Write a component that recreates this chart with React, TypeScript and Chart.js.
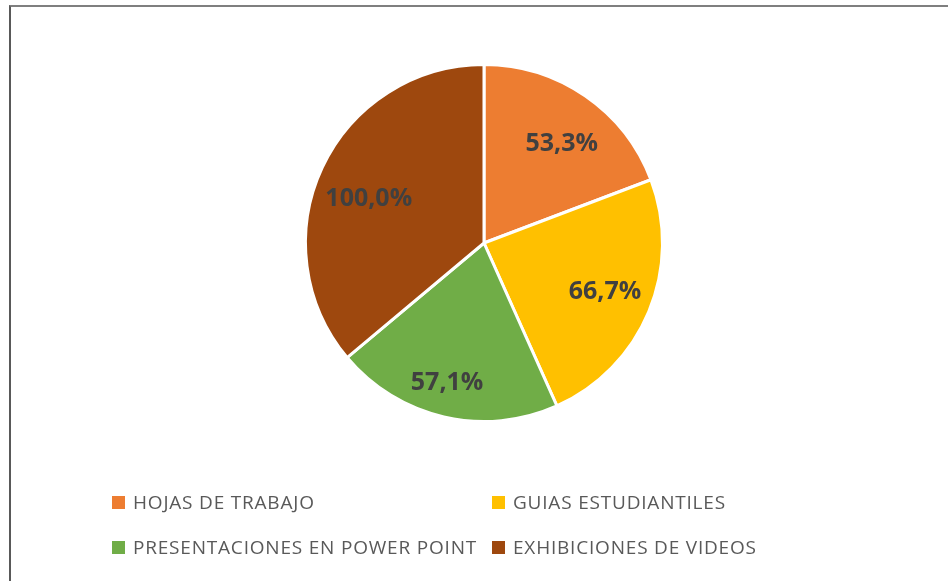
import React, { useEffect, useRef } from "react";
import { Chart, registerables } from "chart.js";

Chart.register(...registerables);

const categories = [
  "HOJAS DE TRABAJO",
  "GUIAS ESTUDIANTILES",
  "PRESENTACIONES EN POWER POINT",
  "EXHIBICIONES DE VIDEOS",
];
const values = [53.3, 66.7, 57.1, 100.0];
const valueLabels = ["53,3%", "66,7%", "57,1%", "100,0%"];
const colors = ["#ED7D31", "#FFC000", "#70AD47", "#9E480E"];
// radial position of each data label, as a fraction of the radius, and angular nudge (deg)
const labelRadius = [0.715, 0.726, 0.8, 0.695];
const labelAngleNudge = [2.9, -1.5, 2.0, -3.3];

const labelPlugin = {
  id: "sliceLabels",
  afterDatasetsDraw(chart: any) {
    const ctx = chart.ctx;
    const meta = chart.getDatasetMeta(0);
    ctx.save();
    ctx.font = "bold 25px 'Open Sans'";
    ctx.fillStyle = "#404040";
    ctx.textAlign = "center";
    ctx.textBaseline = "middle";
    meta.data.forEach((arc: any, i: number) => {
      const { x, y, startAngle, endAngle, outerRadius } = arc.getProps(
        ["x", "y", "startAngle", "endAngle", "outerRadius"],
        true
      );
      const mid = (startAngle + endAngle) / 2 + (labelAngleNudge[i] * Math.PI) / 180;
      const r = outerRadius * labelRadius[i];
      ctx.fillText(valueLabels[i], x + Math.cos(mid) * r, y + Math.sin(mid) * r + 2);
    });
    ctx.restore();
  },
};

const legendCols = [112, 492];
const legendRows = [502.5, 547.5];

const legendPlugin = {
  id: "gridLegend",
  afterDraw(chart: any) {
    const ctx = chart.ctx;
    ctx.save();
    ctx.font = "19px 'Open Sans'";
    (ctx as any).letterSpacing = "0.8px";
    ctx.textBaseline = "middle";
    ctx.textAlign = "left";
    categories.forEach((c, i) => {
      const x = legendCols[i % 2];
      const y = legendRows[Math.floor(i / 2)];
      ctx.fillStyle = colors[i];
      ctx.fillRect(x, y - 6.5, 13, 13);
      ctx.fillStyle = "#595959";
      ctx.fillText(c, x + 21, y + 1);
    });
    ctx.restore();
  },
};

export default function App() {
  const ref = useRef<HTMLCanvasElement>(null);
  useEffect(() => {
    if (!ref.current) return;
    const chart = new Chart(ref.current, {
      type: "pie",
      data: {
        labels: categories,
        datasets: [
          {
            data: values,
            backgroundColor: colors,
            borderColor: "#FFFFFF",
            borderWidth: 3,
          },
        ],
      },
      options: {
        responsive: false,
        animation: false,
        layout: { padding: { top: 63, bottom: 158, left: 304, right: 284 } },
        plugins: {
          legend: { display: false },
          tooltip: { enabled: false },
        },
      },
      plugins: [labelPlugin, legendPlugin],
    });
    return () => chart.destroy();
  }, []);

  return (
    <div style={{ position: "fixed", inset: 0, overflow: "hidden", background: "#fff" }}>
      <div
        style={{
          position: "absolute",
          left: 9,
          top: 5,
          width: 1000,
          height: 700,
          borderTop: "2px solid #7f7f7f",
          borderLeft: "2px solid #595959",
        }}
      />
      <canvas
        ref={ref}
        width={948}
        height={581}
        style={{ position: "absolute", left: 0, top: 0, width: 948, height: 581 }}
      />
    </div>
  );
}
